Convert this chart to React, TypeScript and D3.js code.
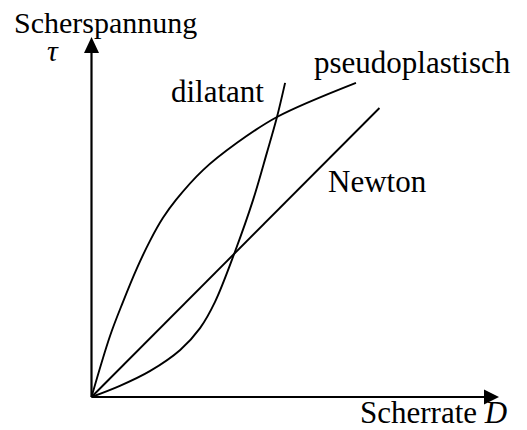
import React from "react";
import * as d3 from "d3";

// Data in chart units (D on x, tau on y)
const newtonD = [0, 7.11];
const newtonTau = [0, 8.05];

const pseudoD = [0, 0.457, 0.778, 1.123, 1.444, 1.765, 2.086, 2.753, 3.593, 4.58, 6.53];
const pseudoTau = [0, 1.7, 2.65, 3.59, 4.35, 4.99, 5.49, 6.32, 7.08, 7.8, 8.75];

const dilatD = [0, 0.7, 1.44, 2.19, 2.68, 3.05, 3.54, 3.99, 4.33, 4.58, 4.78];
const dilatTau = [0, 0.31, 0.72, 1.31, 1.92, 2.65, 4.04, 5.49, 6.8, 7.8, 8.75];

const labels = ["pseudoplastisch", "dilatant", "Newton"];

const W = 527;
const H = 430;

export default function App() {
  const x = d3.scaleLinear().domain([0, 10]).range([91.5, 496.5]);
  const y = d3.scaleLinear().domain([0, 10]).range([397, 38]);

  const line = d3
    .line<[number, number]>()
    .x((d) => x(d[0]))
    .y((d) => y(d[1]))
    .curve(d3.curveCatmullRom.alpha(0.5));

  const zip = (a: number[], b: number[]) => a.map((v, i) => [v, b[i]] as [number, number]);

  const x0 = x(0);
  const y0 = y(0);
  const font = "Liberation Serif, DejaVu Serif, serif";

  return (
    <div>
      <style>{"body{margin:0} svg text{font-family:'Liberation Serif',serif}"}</style>
      <svg width={W} height={H} style={{ display: "block", background: "#fff" }}>
        {/* axes */}
        <line x1={x0} y1={y0} x2={x0} y2={50} stroke="#000" strokeWidth={2.2} />
        <path d={`M${x0},37 L${x0 - 7.5},53 L${x0 + 7.5},53 Z`} fill="#000" />
        <line x1={x0} y1={y0} x2={486} y2={y0} stroke="#000" strokeWidth={2.2} />
        <path d={`M499,${y0} L484,${y0 - 7.5} L484,${y0 + 7.5} Z`} fill="#000" />

        {/* curves */}
        <path d={line(zip(newtonD, newtonTau)) || ""} fill="none" stroke="#000" strokeWidth={1.9} />
        <path d={line(zip(pseudoD, pseudoTau)) || ""} fill="none" stroke="#000" strokeWidth={1.9} />
        <path d={line(zip(dilatD, dilatTau)) || ""} fill="none" stroke="#000" strokeWidth={1.9} />

        {/* texts */}
        <g fontFamily={font} fontSize={30} fill="#000">
          <text x={14} y={33}>Scherspannung</text>
          <text x={47} y={61} fontStyle="italic">τ</text>
        </g>
        <g fontFamily={font} fontSize={31} fill="#000">
          <text x={314} y={73}>{labels[0]}</text>
          <text x={171} y={102}>{labels[1]}</text>
          <text x={328} y={192}>{labels[2]}</text>
          <text x={360} y={423}>
            Scherrate <tspan fontStyle="italic">D</tspan>
          </text>
        </g>
      </svg>
    </div>
  );
}
